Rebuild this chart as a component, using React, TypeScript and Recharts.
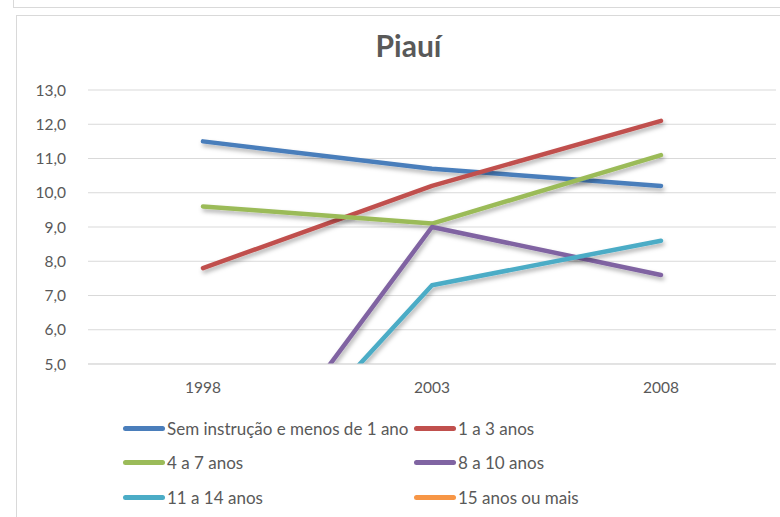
import React from 'react';
import { CartesianGrid, Line, LineChart, XAxis, YAxis } from 'recharts';

// anos e séries
const years = ['1998', '2003', '2008'];
const semInstrucao = [11.5, 10.7, 10.2];
const umATres = [7.8, 10.2, 12.1];
const quatroASete = [9.6, 9.1, 11.1];
const oitoADez = [0, 9.0, 7.6];
const onzeAQuatorze = [0, 7.3, 8.6];
const quinzeOuMais = [0, 0, 0];
const yTicks = [5, 6, 7, 8, 9, 10, 11, 12, 13];

const SERIES = [
  { key: 's1', name: 'Sem instrução e menos de 1 ano', color: '#4A7EBB', values: semInstrucao },
  { key: 's2', name: '1 a 3 anos', color: '#C0504D', values: umATres },
  { key: 's3', name: '4 a 7 anos', color: '#9BBB59', values: quatroASete },
  { key: 's4', name: '8 a 10 anos', color: '#8064A2', values: oitoADez },
  { key: 's5', name: '11 a 14 anos', color: '#4BACC6', values: onzeAQuatorze },
  { key: 's6', name: '15 anos ou mais', color: '#F79646', values: quinzeOuMais },
];

const data = years.map((year, i) => {
  const row: { [key: string]: any } = { year };
  SERIES.forEach((s) => { row[s.key] = s.values[i]; });
  return row;
});

const FONT = 'Lato, "Open Sans", sans-serif';
const GREY = '#595959';

const fmt = (v: number) => v.toFixed(1).replace('.', ',');

const LegendItem: React.FC<{ name: string; color: string }> = ({ name, color }) => (
  <div style={{ display: 'flex', alignItems: 'center', height: 20, whiteSpace: 'nowrap' }}>
    <div style={{ width: 42, height: 5, borderRadius: 3, background: color, marginRight: 2, flexShrink: 0 }} />
    <span>{name}</span>
  </div>
);

export default function App() {
  return (
    <div style={{ position: 'absolute', left: 0, top: 0, width: 780, height: 517, background: '#fff', overflow: 'hidden', fontFamily: FONT }}>
      {/* caixa do gráfico anterior */}
      <div style={{ position: 'absolute', left: 13, top: -10, width: 800, height: 16, border: '1px solid #d9d9d9' }} />
      {/* caixa do gráfico */}
      <div style={{ position: 'absolute', left: 16, top: 15, width: 800, height: 520, border: '1px solid #d9d9d9' }} />

      <div style={{ position: 'absolute', left: 16, top: 27, width: 785, textAlign: 'center', fontSize: 30, fontWeight: 700, color: GREY }}>
        Piauí
      </div>

      <div style={{ position: 'absolute', left: 16, top: 16 }}>
        <LineChart width={764} height={501} data={data} margin={{ top: 74, right: 4, bottom: 123, left: 0 }}>
          <defs>
            <filter id="sombra" x="-10%" y="-10%" width="130%" height="140%">
              <feDropShadow dx="1.5" dy="3" stdDeviation="2" floodColor="#000" floodOpacity="0.3" />
            </filter>
          </defs>
          <CartesianGrid vertical={false} stroke="#d9d9d9" strokeWidth={1} />
          <XAxis
            dataKey="year"
            axisLine={{ stroke: '#d9d9d9' }}
            tickLine={false}
            height={30}
            padding={{ left: 115, right: 115 }}
            tick={{ fill: GREY, fontSize: 15.5, fontFamily: FONT }}
            tickMargin={12}
          />
          <YAxis
            domain={[5, 13]}
            ticks={yTicks}
            allowDataOverflow
            axisLine={false}
            tickLine={false}
            width={72}
            tickFormatter={fmt}
            tick={{ fill: GREY, fontSize: 15.5, fontFamily: FONT }}
            tickMargin={16}
          />
          {SERIES.map((s) => (
            <Line
              key={s.key}
              dataKey={s.key}
              name={s.name}
              stroke={s.color}
              strokeWidth={4.5}
              strokeLinecap="round"
              strokeLinejoin="round"
              dot={false}
              activeDot={false}
              type="linear"
              filter="url(#sombra)"
              isAnimationActive={false}
            />
          ))}
        </LineChart>
      </div>

      <div
        style={{
          position: 'absolute', left: 123, top: 418, fontSize: 17, color: GREY,
          display: 'grid', gridTemplateColumns: '291px 200px', rowGap: 14.5,
        }}
      >
        {SERIES.map((s) => <LegendItem key={s.key} name={s.name} color={s.color} />)}
      </div>
    </div>
  );
}
